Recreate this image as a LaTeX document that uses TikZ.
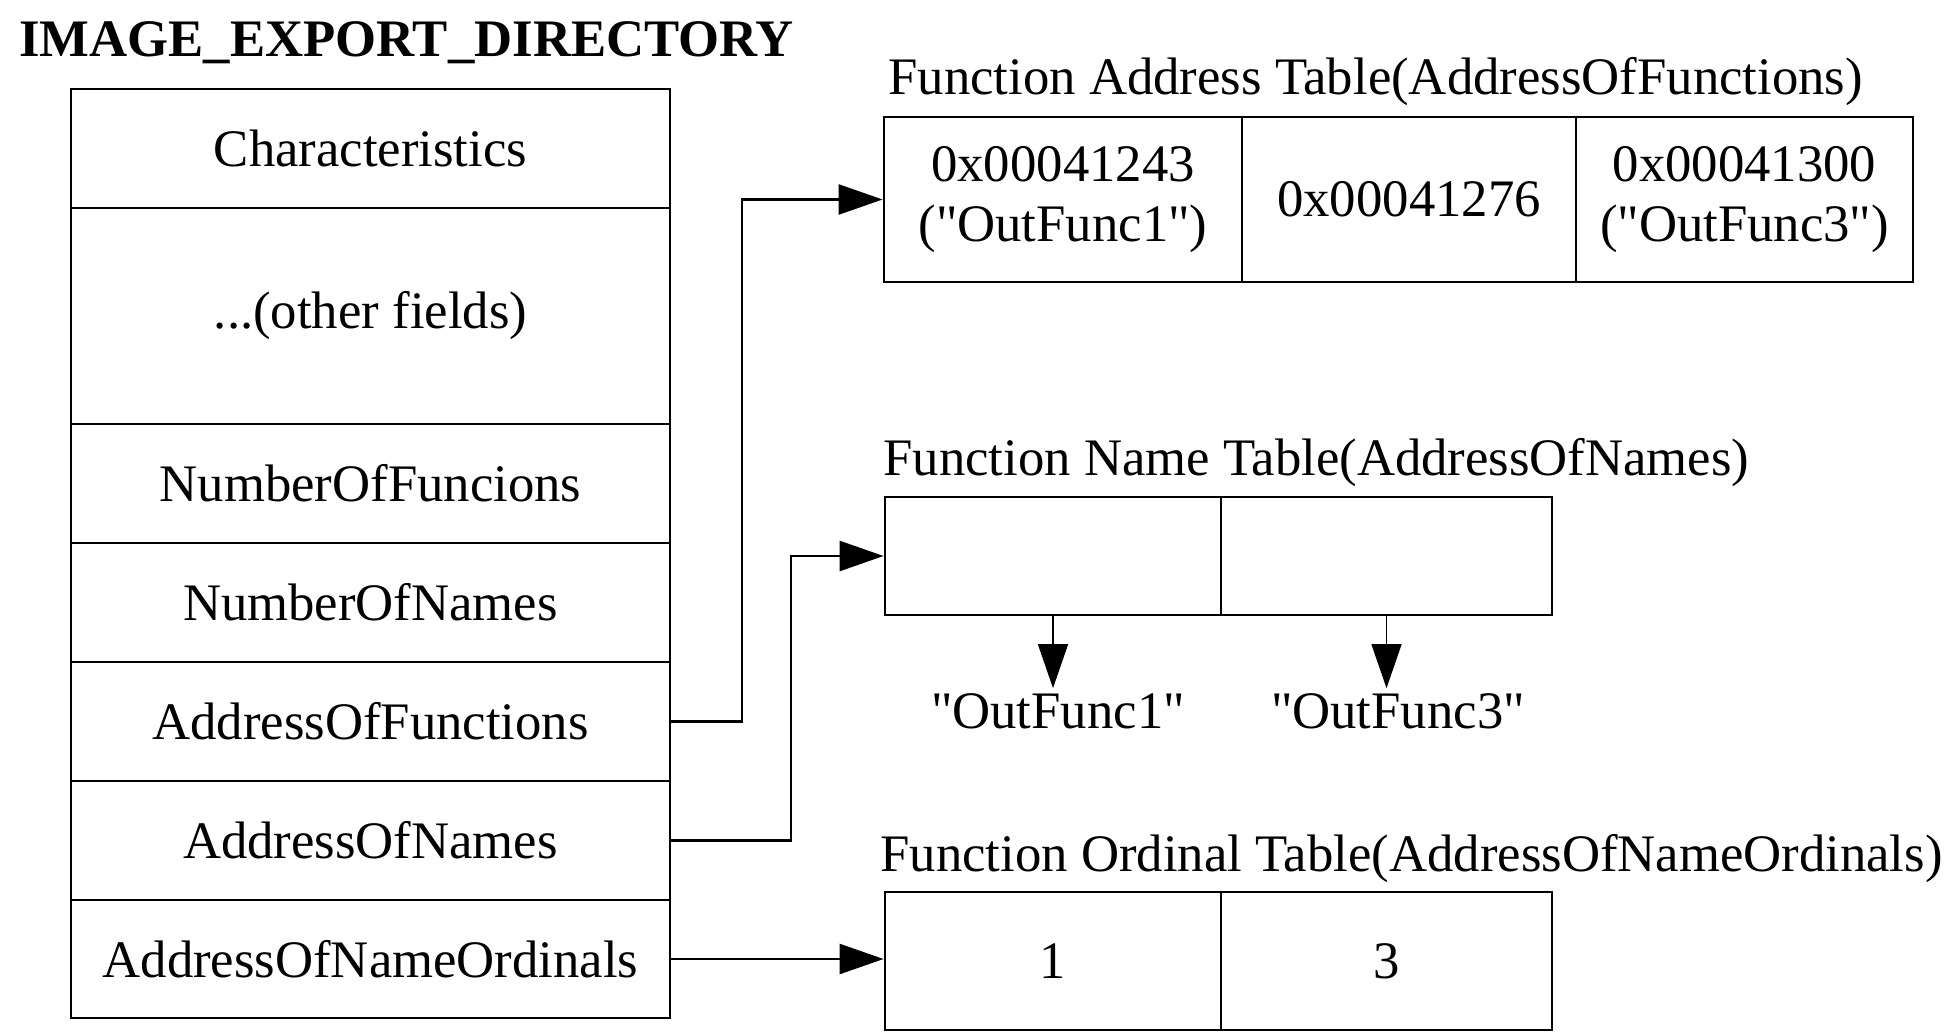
\documentclass[tikz,border=0pt]{standalone}
\usepackage{fontspec}
\setmainfont{Liberation Serif}
\usetikzlibrary{arrows.meta}
\newcommand{\qq}[1]{\textquotedbl#1\textquotedbl}
\begin{document}
\begin{tikzpicture}[x=0.1mm,y=-0.1mm,
  font=\fontsize{15pt}{17pt}\selectfont,
  line width=0.8pt,
  field/.style={draw, minimum width=59.9mm, inner sep=0pt},
  tcell/.style={draw, inner sep=0pt, align=center},
  caption/.style={anchor=base west, inner sep=0pt},
  strname/.style={anchor=base, inner sep=0pt},
  link/.style={-{Triangle[length=12.5pt,width=8.5pt]}},
]
\useasboundingbox (0,0) rectangle (1953,1033);

% IMAGE_EXPORT_DIRECTORY structure
\node[caption] (ttl) at (18,57) {\bfseries IMAGE\_EXPORT\_DIRECTORY};
\node[field, minimum height=11.9mm] (chr) at (370.5,148.5) {Characteristics};
\node[field, minimum height=21.6mm] (oth) at (370.5,316) {...(other fields)};
\node[field, minimum height=11.9mm] (nof) at (370.5,483.5) {NumberOfFuncions};
\node[field, minimum height=11.9mm] (non) at (370.5,602.5) {NumberOfNames};
\node[field, minimum height=11.9mm] (aof) at (370.5,721.5) {AddressOfFunctions};
\node[field, minimum height=11.9mm] (aon) at (370.5,840.5) {AddressOfNames};
\node[field, minimum height=11.8mm] (ano) at (370.5,959) {AddressOfNameOrdinals};

% Function address table
\node[caption] (capA) at (887,95) {Function Address Table(AddressOfFunctions)};
\node[tcell, minimum width=35.8mm, minimum height=16.5mm] (fa1) at (1063,199.5) {0x00041243\\(\qq{OutFunc1})};
\node[tcell, minimum width=33.4mm, minimum height=16.5mm] (fa2) at (1409,199.5) {0x00041276};
\node[tcell, minimum width=33.7mm, minimum height=16.5mm] (fa3) at (1744.5,199.5) {0x00041300\\(\qq{OutFunc3})};

% Function name table
\node[caption] (capN) at (882,475) {Function Name Table(AddressOfNames)};
\node[tcell, minimum width=33.6mm, minimum height=11.8mm] (fn1) at (1053,556) {};
\node[tcell, minimum width=33.1mm, minimum height=11.8mm] (fn2) at (1386.5,556) {};
\node[strname] (s1) at (1058,728) {\qq{OutFunc1}};
\node[strname] (s3) at (1398,728) {\qq{OutFunc3}};

% Function ordinal table
\node[caption] (capO) at (879,871) {Function Ordinal Table(AddressOfNameOrdinals)};
\node[tcell, minimum width=33.6mm, minimum height=13.8mm] (fo1) at (1053,961) {1};
\node[tcell, minimum width=33.1mm, minimum height=13.8mm] (fo2) at (1386.5,961) {3};

% connectors
\coordinate (j1) at (742,0);
\coordinate (j2) at (791,0);
\draw[link] (aof.east) -- (aof.east -| j1) |- (fa1.west);
\draw[link] (aon.east) -- (aon.east -| j2) |- (fn1.west);
\draw[link] (ano.east) -- (ano.east -| fo1.west);
\draw[link, line width=0.5pt, shorten >=1pt] (fn1.south) -- (fn1.south |- s1.north);
\draw[link, line width=0.5pt, shorten >=1pt] (fn2.south) -- (fn2.south |- s3.north);
\end{tikzpicture}
\end{document}
